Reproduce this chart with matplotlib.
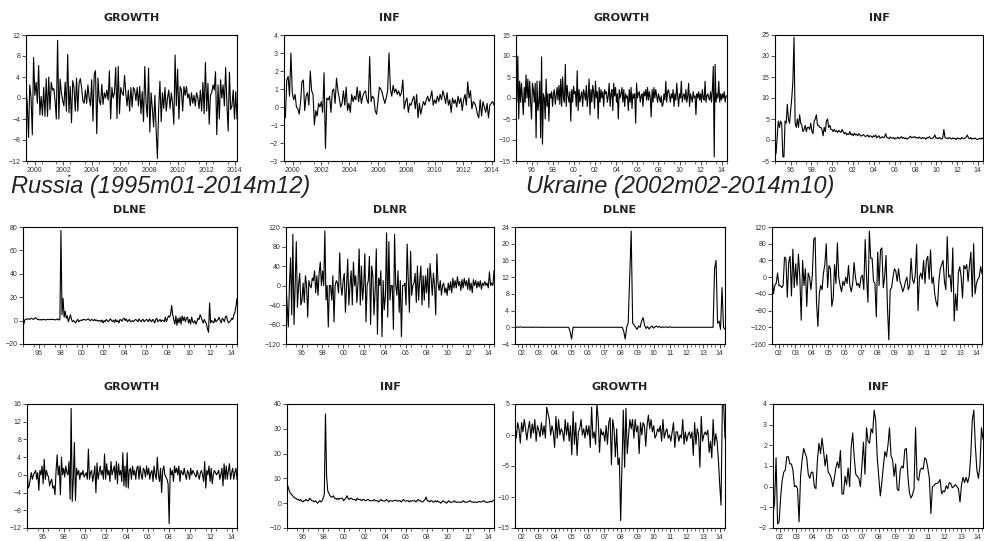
import numpy as np
import matplotlib
matplotlib.use("Agg")
import matplotlib.pyplot as plt
from matplotlib.ticker import MultipleLocator

plt.rcParams['font.family'] = ['Liberation Sans', 'DejaVu Sans']

# ---- data (monthly, approximate) ----

# top row, left pair (2000-2014)
top_growth_a = [2, -1, -7.5, 2.5, 0, -7, 7.7, 0.5, 3, -1, 6.2, -3.2, 0.3, -3.3, 2, -3.5, 3.7, -3.5, 4, -2.2,
                3, 1.5, 1.8, -0.5, -4, 11, -4, 3.6, 1, -0.5, -1.5, 3, -2.5, 8.3, -2.8, 2.2, -4.7, 3.3, 2, -2.5,
                3.8, -2.5, 2.8, 3.7, 2, -0.5, -1, 1.5, -1, 2.5, 0, -1.5, 3.5, -4.4, 4.5, 5.2, -6.8, 3.8, -0.5, -1.3,
                2.6, -1.2, 1, 0, 1.5, -0.4, 5.2, -4, 2, 0, 1, 5.8, -3.9, 6, -3, 2, 1, 0.5, 4.3, 1,
                -1.5, 1.5, -2.5, 2, -1.7, 2, 1.5, -0.5, 2, -1.5, 2.2, -3, 1.2, -4.5, 6, -1, -3.6, 5.7, -6.5, 1,
                -2, -5.5, 0.5, -6, -11.5, -2, 3.2, -4.5, 1, -2, 2, -2.5, 0, 1.5, -2, 1, -1, -5, 8.2, -1.5,
                5.5, -4, 2.2, 1.5, -2.5, 2.2, 0.5, 2.2, 0, 0.8, -1.5, 1, -1, 0.5, -1.5, 1, 0, -2, 1.5, -2.5,
                3, -3, 6.8, -2.5, 2.8, -5, 0.6, 1, 2.5, 1.5, 5, -7, 2.5, -4, 3.5, 0, 2.5, -1.5, 5.8, -1,
                -6.3, 4.9, -2.2, -1.5, 1.5, -4, 1.2, -4]
top_inf_a = [0.3, -0.6, 1.5, 1.7, 0.6, 3.0, 0.8, 0.4, 0.7, 0.0, -0.1, -0.4, 0.3, 1.4, 1.5, -0.2, 0.6, 0.8, 0.1, 2.0,
             0.9, 0.7, -1.0, -0.2, -0.5, 0.2, 0.0, 0.3, -0.3, 1.9, -2.3, 0.5, 0.4, 0.6, -0.3, 0.9, 1.0, 0.2, 1.6, 0.9,
             0.5, 0.0, 0.2, 0.9, 0.1, 1.1, -0.2, 0.2, -0.3, 0.7, 0.3, 0.6, 0.4, 1.1, 0.3, 0.9, 0.2, 0.6, 0.8, 0.9,
             0.4, 0.2, 2.8, 0.3, 0.6, 0.5, -0.2, -0.4, 0.3, 1.1, 1.0, 0.8, 0.5, 0.2, 0.5, 0.9, 3.0, 1.0, 0.6, 1.2,
             0.8, 1.0, 0.7, 0.9, 0.6, 0.8, 1.5, -0.1, 0.3, 0.5, -0.3, 0.2, 0.1, 0.4, 0.6, -0.1, 0.7, -0.6, 0.2, -0.4,
             0.0, 0.3, 0.1, 0.4, 0.6, 0.3, 0.5, 0.9, 0.1, 0.4, 0.2, 0.6, 0.3, 0.7, 0.4, 0.9, 0.6, 0.2, 0.8, 0.1,
             0.4, -0.3, 0.5, 0.2, 0.4, 0.0, 0.6, 0.2, 0.5, -0.2, 0.4, 0.7, 0.1, 1.4, 0.5, 0.9, -0.1, 0.3, 0.2, 0.0,
             -0.4, -0.6, 0.4, -0.5, 0.3, 0.0, -0.3, 0.2, -0.6, 0.1, 0.2, 0.3, 0.1]

# top row, right pair (1995-2014)
top_growth_b = [10, -1, 10, -5, 4, -1, 3.5, 0, -4, 2.5, -1, 5.5, 0, 4.5, -2, 4, -1, -5, 3.5, 2,
                -1, 3.5, -9.5, 4, -3, -1, 4, -9.5, 9.8, -11, 1, 0, -5, 4.5, -2, 1, -5.5, 1, 0, 1.5,
                -2, 1, 2, -1.5, 0.5, 2.5, -0.5, 3, -1.5, 4.5, -2, 5, 0, -1, 8, -2, 3, 0.5, -1, 1.5,
                -5.5, 2, -1, 2.8, 1, 1.5, -2, 6.5, -3, 2, -1, 0.5, 1.5, -2, 2, 1, -0.5, 3, -2, 0.5,
                4.5, -4, 2, -1, 3, 1.5, -2.5, 4, 0, 1.5, -5, 2.5, -1, 2, 0, 1.5, -2, 2, 1, 1.5,
                -1, 0.5, 3.5, -2, 1, 2, -3, 3.5, 0.5, 2.5, -1, 1, -5, 2, 0, 1, 2.5, -1, 2, -2,
                1, 0, 0.5, -3, 2, -1, 2.5, -2.5, 1, 0, 1, -6, 3.5, 0, 1, 1.5, -1, 0.5, 1, -2,
                1.5, 0.5, 2, -0.5, 2.5, -0.5, 1.5, 0, -4.5, 2, -1, 2.5, 0, 2, 0.5, -1, 1, 0, -1, 0.5,
                -2, -1.5, 1, -0.5, 4, -1, 1.5, 2, 0.5, -1, 1, 0, 2, -2, 1, -0.5, 3.5, 0.5, -2, 1,
                0, 4, -1, 0.5, 1, -0.5, 2, -1, 0.5, 3.5, -2, 1, 0, -1, 1.5, 0, 0.5, -4, 1, 0,
                1.5, -0.5, 1, -1, 2, 0, -0.5, 4, -1, 0.5, 1, 0, -0.5, 1.5, -1, 2, 7.5, -14, 8, -1,
                1, 0, 4, -1, 1, -0.5, 1, 0, 1.5, -1, 0.5, 0.5]
top_inf_b = [-4, -3, 1, 4.5, 3, 4.5, 4, -4, -4, 4.5, 4, 8.5, 5, 4, 7, 10, 14, 24.5, 4, 3,
             5, 3, 6, 4, 3.5, 2, 2.5, 3.5, 2, 3, 3, 2.5, 4, 2, 1.5, 4.5, 5, 6, 3.5, 3.5,
             3, 3, 2.5, 1, 3, 2, 4.5, 5, 3, 3.5, 2.5, 2.5, 2, 2.5, 2, 2.2, 1.8, 2.3, 2, 1.8,
             2.5, 2, 1.5, 1.8, 1.2, 1.5, 1.3, 2, 1.2, 1.5, 1, 1.6, 1.2, 1.4, 1, 1.5, 1.2, 0.9, 1.1, 1.3,
             1, 0.8, 1, 1.2, 0.7, 1, 0.9, 0.6, 1, 0.8, 1.2, 0.5, 0.8, 1, 0.4, 0.6, 0.8, 0.5, 0.7, 1.5,
             0.6, 0.5, 0.3, 0.7, 0.5, 0.4, 0.6, 0.2, 0.5, 0.4, 0.7, 0.3, 0.5, 0.8, 0.4, 0.6, 0.3, 0.5, 0.2, 0.4,
             0.6, 0.9, 0.5, 0.7, 0.6, 0.8, 0.5, 0.6, 0.4, 0.7, 0.5, 0.3, 0.6, 0.4, 0.5, 0.2, 0.6, 0.5, 0.8, 0.4,
             0.3, 0.5, 0.7, 1.2, 0.4, 0.5, 0.3, 0.6, 0.4, 0.2, 0.5, 2.5, 0.6, 0.4, 0.5, 0.3, 0.6, 0.4, 0.2, 0.5,
             0.3, 0.4, 0.1, 0.5, 0.3, 0.4, 0.2, 0.6, 0.4, 0.3, 0.5, 0.7, 1.2, 0.5, 0.3, 0.6, 0.2, 0.4, 0.3, 0.5,
             0.2, 0.1, 0.3, 0.4, 0.2, 0.5, 0.3]

# Russia (1995m01-2014m12)
ru_dlne = [-5, -2, 1, 1, 1.5, 1.5, 1, 1.5, 2, 1.5, 1, 2, 2.5, 1.5, 1, 1, 0.5, 1, 0.5,
           1, 1, 0.5, 0.8, 1, 1, 0.8, 1, 1.2, 1, 0.8, 1, 0.5, 1, 1.5, 0.5,
           1, 77, 5, 19, 3, 8, 2, 4, -1, 2, 5, 1, -1, 0, -1, -2, 0, 1, -1,
           0, 0.5, 0, 1, 1, 0.5, 0.5, 1, 1.5, 0.5, 0, 1, 0.5, 0, 1, 0, 0.5, -0.5, 0, 0,
           -1, 0.5, -2, 0, -1, 1, 0, -1, 0.5, 1.5, 0, -1, 0.5, -1.5, 1, -1, 0, -2, 1, 0.5,
           -0.5, 1.5, 2, 0, 1.5, -1, 0, 1, -1, -0.5, 0, -1, 0.5, 1, 0, -1, 1.5, 0, -1, 0.5,
           1, -1, 0, 1, 0.5, -1, 1.5, 0, -1, 1, 0, -2, 1, 2, -1, 0, 1, -1, 0.5, 0,
           -1, 3, -1, 1.5, 4, 3, 5, 13, 5, 1, -3, 4, -4, 2, -2, 3, -3, 4, 0, 3,
           -1, 2, 3, -2, 1, -3, 3, -1, -2, 0, -3, -1, 2, 1, 5, 3, 0, -2, 1, -1,
           -3, -7, -10, 15, -2, 0, -1, -2, 2, -1, 0, 1, 3, 0, -2, 2, 1, -1, 3, 4,
           0, -2, -1, 0, 2, 1, 5, 7, 12, 19]
ru_dlnr = [0, -40, -85, 0, 57, -60, 105, -80, 0, 90, -45, 0, 25, -40, -30, 5, -35, 20, 0, -65,
           10, 0, -5, 15, 10, 30, -15, 20, -20, 25, 48, 0, 30, 0, 112, -30, 0, -85, 0, 0,
           -30, 20, -75, 0, 10, 5, -15, 67, 0, -20, 10, 25, -55, 0, 54, -40, 0, 30, -40, 48,
           0, 20, -35, 5, 75, -40, 40, -30, 0, 65, -75, 0, 10, 60, -80, 40, 20, -60, -10, 75,
           -100, 15, 0, 30, -105, 10, -50, -20, 108, -65, 90, -30, 0, 0, -90, 105, 0, -20, 30, -55,
           10, -105, 0, 0, 5, -40, 85, 10, -55, 70, -20, 0, 5, 25, -35, 40, -30, 10, 40, -40,
           20, -30, 20, -15, 35, -45, 45, 15, -20, 25, 0, -60, 65, 5, -10, 10, -20, 0, 5, -15,
           -5, -20, 5, -10, 8, -15, 15, -5, 10, -5, 18, 0, 8, -10, 12, -5, 15, 0, 10, -8,
           15, -10, 5, -15, 12, 0, 10, -5, 8, -3, 10, -8, 5, 0, 8, 0, 5, -5, 28, 0,
           5, 0, 30]
ru_growth = [2, -3, -2.5, -1, 0.5, -1, 0, 0.5, 1, -1, 0.5, -3.5, 1, 0, 2, -2, 3.5, -1, 1, 0,
             -0.5, -2.5, -1.5, -1, -3, -2.5, -4.5, 1, 4.5, 0, 2, -4.5, 4, 0, 1.5, -0.5, 2, 0.5, 0, 3,
             -5.5, 15, -6, -1, 7.3, -5.8, 1.5, 0, 1, -1, 0.5, 0, 1, -0.5, 0, 0.5, -1, 5.8, -1, 0.5,
             1, -1.5, 0, 2, -4, 2.7, -1, 0.5, 2, 0, 1, -1, 4.7, -1, 2.5, 0, 1, -1.5, 3, 0,
             1, 2, -1, 3, -2, 2.5, 0, 1, -1.5, 5, -2.5, 2, -2.8, 5, -3, 1, 1.5, -1, 2, 0,
             1, -1, 1.5, 2, -1, 2, 0, -1, 1.5, 1, -0.5, 2, 0, 1.5, -1, 0.5, 1, -1.5, 2, 0,
             -1, 4, 0, -1.5, 1.5, -4, 1, 2, 0, -0.5, -1, -2, -11, 1.5, 0, 1, -1.5, 2, 0.5, 1.5,
             0, 2, -1.5, 1, 0.5, 0, 1.5, 0, -1, 1, 0.5, -1, 1.5, 0, 1, 0.5, 0, -0.5, 1, 0,
             -1, 0.5, 1, 0, -1.5, 3, -3, 1, 0, 2, -1.5, 1.5, -2, 0, 1, 0.5, 0, 0.5, 1, -1,
             0, 1.5, -2.5, 2.5, -1, 2, -1, 1, 2.5, -1, 0.5, 1.5, -1, 0.5, 1.5, -1]
ru_inf = [8, 6.5, 5, 4, 3.5, 3, 2.5, 2, 2, 1.5, 1.5, 1, 1.5, 1, 0.5, 1, 1,
          1.5, 1, 1, 2, 1.5, 1, 1, 0.5, 1, 0.5, 0, 0.5, 1, 0.5, 1, 2, 3.7, 36, 11, 5,
          4, 3, 2.5, 2.5, 3, 2, 2, 1.5, 2, 1.5, 2, 2, 2, 1, 1.5, 2, 3, 2, 1.5, 2,
          2, 1.5, 1.5, 1.5, 1, 2, 1.5, 1.5, 1.5, 1, 1.5, 1.5, 1, 1, 1.5, 1.5, 1, 1, 1, 1,
          1.5, 1, 1, 1, 0.5, 1, 1.5, 1, 1, 0.8, 1, 1.5, 1, 0.5, 1, 1, 0.8, 1, 1, 1.2,
          1, 0.8, 1, 1, 0.5, 1, 1.5, 1, 0.8, 1, 1, 0.5, 1, 0.8, 1, 1, 1, 0.5, 1, 1.5,
          1, 1, 0.5, 0.5, 1, 1.5, 2.5, 1, 1, 0.5, 1, 1, 0.5, 0.5, 1, 0.5, 1, 0.5, 0.5, 0,
          0.5, 1, 0.5, 0.5, 0, 0.5, 1, 0.5, 0.3, 0.5, 0.5, 1, 0.5, 0.3, 0.5, 0.5, 0.3, 0.5, 0.5, 1,
          0.5, 0.3, 0.5, 0.5, 0.8, 1, 0.5, 0.5, 0.3, 0.5, 0.5, 0.3, 0.5, 0.7, 0.5, 0.5, 0.8, 1, 0.5, 0.5,
          0.3, 0.5, 0.5, 0.8, 0.5, 1, 1.2]

# Ukraine (2002m02-2014m10)
ua_dlne = [0.1, 0, 0.05, 0, 0.1, 0, 0, 0.05, 0, 0, 0.05, 0, 0, 0, 0.05, 0, 0, 0, 0, 0,
           0, 0, 0, 0, 0, 0, 0, 0, 0, 0, 0, 0, 0, 0, 0, 0, 0, -1, -2.8, 0,
           0, 0, 0, 0, 0, 0, 0, 0, 0, 0, 0, 0, 0, 0, 0, 0, 0, 0, 0, 0,
           0, 0, 0, 0, 0, 0, 0, 0, 0, 0, 0, 0, 0, -1, -2.8, 0, 1, 12, 23, 1,
           0.5, 0, -0.5, 0.3, 0, 1.5, 2.3, 0.5, -0.3, 0.2, -0.4, 0, 0.3, -0.2, 0.1, 0.3, 0, 0.2, -0.1, 0.1,
           0, 0.1, 0, 0, 0.1, 0, 0, 0, 0, 0, 0, 0, 0, 0, 0, 0, 0, 0, 0, 0,
           0, 0, 0, 0, 0, 0, 0, 0, 0, 0, 0, 0, 0, 0, 14, 16, 1, 1.5, -0.5, 9.5,
           0, -0.5]
ua_dlnr = [5, -40, -20, -15, 10, -20, -20, -25, -20, 48, 45, -48, 35, 50, -45, 67, -25, 32, -20, 55,
           0, -103, 40, -20, 20, -70, 10, 0, -30, 5, 90, 95, -60, -118, -40, -20, -30, 10, 30, 80,
           -25, 28, 20, -70, -50, 30, -15, 82, 0, -20, -35, -10, -20, 0, -15, 28, -20, -35, -15, 35,
           0, -20, -15, -25, 0, 5, -30, 90, 0, -60, 110, 45, 45, -10, -15, -95, 60, -20, 65, 70,
           -25, 0, 52, -70, -150, -30, -25, 0, 20, 15, -10, 20, -10, -20, -35, -25, -10, 0, -30, -20,
           45, -5, -15, 5, 78, -80, 0, 10, -5, 40, -15, 40, 50, -5, 65, -15, 0, -40, -60, -70,
           -10, 20, 30, 40, -10, -30, 97, 0, 5, -35, 70, -105, -40, -80, 10, 25, 0, -50, 28, 20,
           30, -10, 28, 60, -47, 80, -40, -15, -5, 0, 25, 8]
ua_growth = [1.5, -0.5, 2, 1, -1.3, 2, 0.5, 2.5, 1, -0.8, 1, 2.2, -0.5, 1.8, 0.3, 2.5, -1, 1.5, 0.8, -0.3,
             2, 0, 1.5, -0.5, 4.5, 3.5, 2.5, 0, 1.5, 0.5, -2, 3, -0.5, 2.5, 0, 1, 0.5, -1, 2.5, 0,
             2, -1, 1.5, -3.2, 3.8, -1.5, 2, -3.3, 0.5, 1, 2.5, 0, 1, -0.5, 1.5, 0, 1.5, -2, 4.5, -0.5,
             0.5, -1.5, 5, 2.5, -2.8, 1, 0, 0.5, -1, 1.5, -1.5, 2, 2.8, -4.8, 2.5, 1, -3.5, 1, -4.8, -3.7,
             -13.8, -5, 4, -5.2, 4.3, -3, 0, 2.5, 1, 2.5, -0.5, 2.5, 0.5, 1.5, -3, 2, 0, 2, 1.5, -1.8,
             1.5, 3.2, 1, 2.5, 0.5, 1.5, -0.5, 0, 1, 0.5, 1.5, -1, 2.5, -0.5, 0.5, 1, -0.5, 0, -1, 0.5,
             2, -2, 0.5, 0.5, -1, 0, -0.5, 2.5, -1.5, 0.5, -1, 0, 0.5, -0.5, 0.5, -3.3, 2, -1.5, 1, 0,
             -5.2, 3, -1, 0, 0.5, 0, 0.8, -2.8, -1, -3.7, 2.5, -1.7, 0.2, -1, -4, -8, -11.3, 5, 5, -0.5]
ua_inf = [-1.3, -0.8, 1.4, -1.8, -1.7, -0.5, 0.3, 0.7, 0.8, 1.45, 1.45, 1.1, 1.1, 0.8, 0.0, 0.05, -0.1, -1.7, 0.5, 1.3,
          1.85, 1.6, 1.4, 0.6, 0.4, 0.7, 0.7, 0.0, -0.1, 1.3, 2.1, 1.6, 2.35, 1.7, 1.0, 1.55, 0.7, 0.6, 0.4, 0.0,
          0.4, 0.9, 1.2, 0.9, 1.75, -0.35, -0.35, 0.5, 0.1, 0.9, 0.0, 1.9, 2.6, 1.4, 0.6, 0.5, 0.4, 0.0, 1.0, 2.15,
          0.6, 2.85, 2.2, 2.1, 2.8, 2.6, 3.7, 3.2, 1.4, 0.5, -0.45, 0.2, 1.0, 1.7, 1.45, 2.0, 2.85, 1.5, 1.3, 0.5,
          1.1, -0.1, -0.2, 0.8, 1.0, 0.9, 1.8, 1.85, 0.5, -0.3, -0.55, -0.4, -0.1, 2.85, 0.4, 0.3, 0.8, 0.9, 0.85, 1.4,
          1.3, 0.9, 0.4, -1.3, 0.0, 0.05, 0.15, 0.15, 0.2, 0.35, -0.35, -0.2, -0.25, 0.05, -0.1, 0.2, 0.15, -0.05, 0.0, 0.1,
          0.0, -0.1, -0.75, 0.1, 0.45, 0.2, 0.45, 0.2, 0.5, 1.5, 3.2, 3.7, 2.0, 0.8, 0.4, 1.0, 2.85, 2.3]

fig = plt.figure(figsize=(9.84, 5.41), dpi=100)
W, H = 984, 541


def panel(px, title, vals, period, ylim, ystep, years, labels, xminor):
    x0, x1, y0, y1 = px
    ax = fig.add_axes([x0 / W, 1 - y1 / H, (x1 - x0) / W, (y1 - y0) / H])
    x = np.linspace(period[0], period[1], len(vals))
    ax.plot(x, vals, color='black', lw=0.8)
    ax.set_xlim(period)
    ax.set_ylim(ylim)
    ax.yaxis.set_major_locator(MultipleLocator(ystep))
    # EViews puts the year label in the middle of the year
    ax.set_xticks([y + 0.5 for y in years])
    ax.set_xticklabels(labels)
    ax.xaxis.set_minor_locator(MultipleLocator(xminor))
    ax.tick_params(axis='both', which='major', labelsize=5, length=3, width=0.6,
                   pad=1.2, colors='#333333')
    ax.tick_params(axis='x', which='minor', length=2, width=0.5, color='#333333')
    for s in ax.spines.values():
        s.set_linewidth(0.8)
    fig.text((x0 + x1) / 2 / W, 1 - (y0 - 17) / H, title, ha='center', va='center',
             fontsize=8, fontweight='bold', family='DejaVu Sans', color='#222222')
    return ax


yrs_long = list(range(1996, 2015, 2))
lab_long = ['%02d' % (y % 100) for y in yrs_long]
yrs_top = list(range(2000, 2015, 2))
lab_top = [str(y) for y in yrs_top]
yrs_ua = list(range(2002, 2015))
lab_ua = ['%02d' % (y % 100) for y in yrs_ua]

# row 1
panel((26, 237, 35, 161), 'GROWTH', top_growth_a, (1999.9, 2014.65), (-12, 12), 4, yrs_top, lab_top, 1)
panel((284, 494, 35, 161), 'INF', top_inf_a, (1999.9, 2014.65), (-3, 4), 1, yrs_top, lab_top, 1)
panel((516, 727, 35, 161), 'GROWTH', top_growth_b, (1995.0, 2015.0), (-15, 15), 5, yrs_long, lab_long, 1)
panel((775, 983, 35, 161), 'INF', top_inf_b, (1995.0, 2015.0), (-5, 25), 5, yrs_long, lab_long, 1)

# row 2
panel((23, 237, 227, 344), 'DLNE', ru_dlne, (1995.0, 2015.0), (-20, 80), 20, yrs_long, lab_long, 1)
panel((286, 494, 227, 344), 'DLNR', ru_dlnr, (1995.0, 2015.0), (-120, 120), 40, yrs_long, lab_long, 1)
panel((515, 725, 227, 344), 'DLNE', ua_dlne, (2002.08, 2014.83), (-4, 24), 4, yrs_ua, lab_ua, 0.25)
panel((772, 982, 227, 344), 'DLNR', ua_dlnr, (2002.08, 2014.83), (-160, 120), 40, yrs_ua, lab_ua, 0.25)

# row 3
panel((27, 237, 404, 528), 'GROWTH', ru_growth, (1995.0, 2015.0), (-12, 16), 4, yrs_long, lab_long, 1)
panel((287, 494, 404, 528), 'INF', ru_inf, (1995.0, 2015.0), (-10, 40), 10, yrs_long, lab_long, 1)
panel((515, 725, 404, 528), 'GROWTH', ua_growth, (2002.08, 2014.83), (-15, 5), 5, yrs_ua, lab_ua, 0.25)
panel((773, 983, 404, 528), 'INF', ua_inf, (2002.08, 2014.83), (-2, 4), 1, yrs_ua, lab_ua, 0.25)

fig.text(11 / W, 1 - 193 / H, 'Russia (1995m01-2014m12)', fontsize=17, style='italic',
         family='Liberation Sans', va='baseline', ha='left', color='#222222')
fig.text(526 / W, 1 - 193 / H, 'Ukraine (2002m02-2014m10)', fontsize=17, style='italic',
         family='Liberation Sans', va='baseline', ha='left', color='#222222')

fig.savefig('out.png', dpi=100)
